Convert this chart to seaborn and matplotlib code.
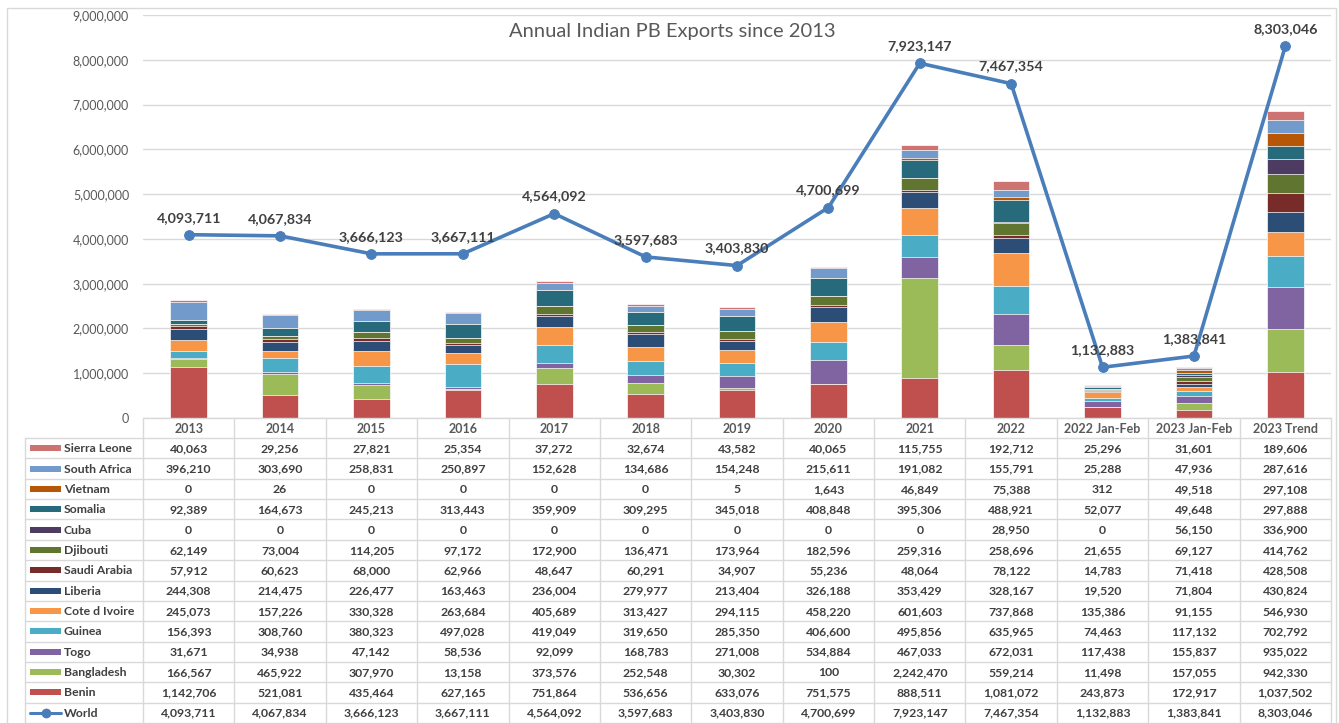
import numpy as np
import matplotlib
matplotlib.use("Agg")
import matplotlib.pyplot as plt
import matplotlib.patches as mpatches
from matplotlib.ticker import FuncFormatter
import seaborn as sns

# ---------------- data ----------------
categories = ['2013', '2014', '2015', '2016', '2017', '2018', '2019', '2020', '2021', '2022',
              '2022 Jan-Feb', '2023 Jan-Feb', '2023 Trend']

benin = [1142706, 521081, 435464, 627165, 751864, 536656, 633076, 751575, 888511, 1081072, 243873, 172917, 1037502]
bangladesh = [166567, 465922, 307970, 13158, 373576, 252548, 30302, 100, 2242470, 559214, 11498, 157055, 942330]
togo = [31671, 34938, 47142, 58536, 92099, 168783, 271008, 534884, 467033, 672031, 117438, 155837, 935022]
guinea = [156393, 308760, 380323, 497028, 419049, 319650, 285350, 406600, 495856, 635965, 74463, 117132, 702792]
cote_d_ivoire = [245073, 157226, 330328, 263684, 405689, 313427, 294115, 458220, 601603, 737868, 135386, 91155, 546930]
liberia = [244308, 214475, 226477, 163463, 236004, 279977, 213404, 326188, 353429, 328167, 19520, 71804, 430824]
saudi_arabia = [57912, 60623, 68000, 62966, 48647, 60291, 34907, 55236, 48064, 78122, 14783, 71418, 428508]
djibouti = [62149, 73004, 114205, 97172, 172900, 136471, 173964, 182596, 259316, 258696, 21655, 69127, 414762]
cuba = [0, 0, 0, 0, 0, 0, 0, 0, 0, 28950, 0, 56150, 336900]
somalia = [92389, 164673, 245213, 313443, 359909, 309295, 345018, 408848, 395306, 488921, 52077, 49648, 297888]
vietnam = [0, 26, 0, 0, 0, 0, 5, 1643, 46849, 75388, 312, 49518, 297108]
south_africa = [396210, 303690, 258831, 250897, 152628, 134686, 154248, 215611, 191082, 155791, 25288, 47936, 287616]
sierra_leone = [40063, 29256, 27821, 25354, 37272, 32674, 43582, 40065, 115755, 192712, 25296, 31601, 189606]
world = [4093711, 4067834, 3666123, 3667111, 4564092, 3597683, 3403830, 4700699, 7923147, 7467354,
         1132883, 1383841, 8303046]

# stacking order bottom -> top
series_names = ['Benin', 'Bangladesh', 'Togo', 'Guinea', 'Cote d Ivoire', 'Liberia', 'Saudi Arabia',
                'Djibouti', 'Cuba', 'Somalia', 'Vietnam', 'South Africa', 'Sierra Leone']
series_values = [benin, bangladesh, togo, guinea, cote_d_ivoire, liberia, saudi_arabia,
                 djibouti, cuba, somalia, vietnam, south_africa, sierra_leone]
series_colors = ['#C0504D', '#9BBB59', '#8064A2', '#4BACC6', '#F79646', '#2C4D75', '#772C2A',
                 '#5F7530', '#4D3B62', '#276A7C', '#B65708', '#729ACA', '#CD7371']
line_color = '#4A7EBB'

# ---------------- style ----------------
sns.set_theme(style="white")
plt.rcParams['font.family'] = ['Lato', 'DejaVu Sans']

W, H = 1339, 723
fig = plt.figure(figsize=(W / 100, H / 100), dpi=100)

def fx(px):
    return px / W

def fy(py):
    return 1 - py / H

x_left, x_right = 143, 1331
y_top, y_zero = 15, 418
ax = fig.add_axes([fx(x_left), fy(y_zero), fx(x_right) - fx(x_left), fy(y_top) - fy(y_zero)])

# stacked bars: draw cumulative totals, tallest first
cum = np.cumsum(np.array(series_values, dtype=float), axis=0)
for k in range(len(series_names) - 1, -1, -1):
    sns.barplot(x=categories, y=cum[k], order=categories, color=series_colors[k], saturation=1,
                width=0.4, errorbar=None, edgecolor='white', linewidth=0.5, ax=ax, zorder=2)

xpos = np.arange(len(categories))
sns.lineplot(x=xpos, y=world, color=line_color, linewidth=2.6, marker='o', markersize=7,
             markeredgecolor=line_color, ax=ax, zorder=5)
for i, v in enumerate(world):
    ax.annotate(f'{v:,}', (i, v), xytext=(0, 8), textcoords='offset points', ha='center',
                va='bottom', fontweight='bold', color='#404040', fontsize=10.3, zorder=6)

ax.set_xlim(-0.5, len(categories) - 0.5)
ax.set_ylim(0, 9_000_000)
ax.set_yticks(np.arange(0, 9_000_001, 1_000_000))
ax.yaxis.set_major_formatter(FuncFormatter(lambda v, p: f'{int(v):,}'))
ax.tick_params(axis='y', labelsize=9, colors='#595959', length=0, pad=10)
ax.set_xticks([])
ax.set_xlabel('')
ax.set_ylabel('')
ax.grid(axis='y', color='#D9D9D9', linewidth=1, zorder=0)
ax.set_axisbelow(True)
for s in ['top', 'right', 'left']:
    ax.spines[s].set_visible(False)
ax.spines['bottom'].set_color('#D9D9D9')
ax.spines['bottom'].set_linewidth(1)

fig.text(0.502, fy(31), 'Annual Indian PB Exports since 2013', ha='center', va='center',
         fontsize=14.5, color='#595959')

# ---------------- data table ----------------
t_top, t_bottom = 419, 723
tax = fig.add_axes([fx(x_left), fy(t_bottom), fx(x_right) - fx(x_left), fy(t_top) - fy(t_bottom)])
tax.set_xlim(-0.5, len(categories) - 0.5)
tax.set_ylim(t_bottom - t_top, 0)
tax.axis('off')

colw = (x_right - x_left) / len(categories)
def dx(px):
    return (px - x_left) / colw - 0.5

header_h = 19
row_h = (t_bottom - t_top - header_h) / 14
grid_c = '#D9D9D9'

table_rows = list(zip(series_names, series_values, series_colors))[::-1] + [('World', world, line_color)]

# grid lines
xl = dx(25)
tax.plot([-0.5, len(categories) - 0.5], [header_h, header_h], color=grid_c, lw=1, clip_on=False)
tax.plot([xl, -0.5], [header_h, header_h], color=grid_c, lw=1, clip_on=False)
for r in range(1, 15):
    yy = header_h + r * row_h
    tax.plot([xl, len(categories) - 0.5], [yy, yy], color=grid_c, lw=1, clip_on=False)
for c in range(len(categories) + 1):
    xx = c - 0.5
    tax.plot([xx, xx], [0, t_bottom - t_top], color=grid_c, lw=1, clip_on=False)
tax.plot([xl, xl], [header_h, t_bottom - t_top], color=grid_c, lw=1, clip_on=False)

# header
for i, c in enumerate(categories):
    tax.text(i, header_h / 2 + 0.5, c, ha='center', va='center', fontsize=9, fontweight='bold',
             color='#595959')

# rows
for r, (name, vals, col) in enumerate(table_rows):
    yc = header_h + (r + 0.5) * row_h
    if name == 'World':
        tax.plot([dx(30), dx(61)], [yc, yc], color=col, lw=2.2, clip_on=False)
        tax.plot([dx(45.5)], [yc], marker='o', color=col, markersize=6, clip_on=False)
    else:
        tax.add_patch(mpatches.Rectangle((dx(30), yc - 3), dx(61) - dx(30), 6, facecolor=col,
                                         edgecolor='none', clip_on=False))
    tax.text(dx(64), yc + 0.5, name, ha='left', va='center', fontsize=8.8, fontweight='bold',
             color='#404040')
    for i, v in enumerate(vals):
        tax.text(i, yc + 0.5, f'{v:,}', ha='center', va='center', fontsize=8.8, fontweight='bold',
                 color='#404040')

# outer chart border
fig.patches.append(mpatches.Rectangle((fx(7), fy(740)), fx(1336) - fx(7), fy(8) - fy(740),
                                      transform=fig.transFigure, fill=False, edgecolor='#D9D9D9',
                                      linewidth=1))

fig.savefig('out.png', dpi=100)
